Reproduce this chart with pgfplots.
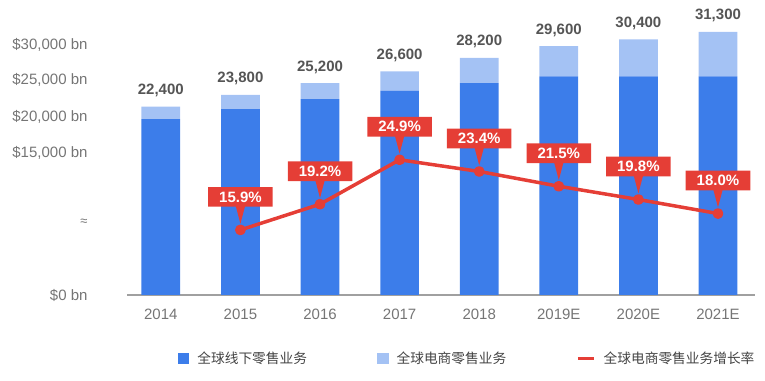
\documentclass[border=0pt]{standalone}
\usepackage{pgfplots}
\pgfplotsset{compat=1.18}
\usepackage{pgfplotstable}
\usepackage{fontspec}
\setmainfont{Liberation Sans}
\newfontfamily\cjk{Noto Sans CJK SC}
\usetikzlibrary{shapes.callouts}
\definecolor{bluedark}{HTML}{3C7DEA}
\definecolor{bluelight}{HTML}{A4C2F4}
\definecolor{redc}{HTML}{E53E36}
\definecolor{txtgray}{HTML}{757575}
\definecolor{lblgray}{HTML}{555555}
\definecolor{leggray}{HTML}{444444}
\definecolor{axgray}{HTML}{A0A0A0}
\pgfplotsset{/pgf/number format/assume math mode=true}

\pgfplotstableread{
x offline ecom total
0 20900 1500 22400
1 22100 1700 23800
2 23300 1900 25200
3 24300 2300 26600
4 25200 3000 28200
5 26000 3600 29600
6 26000 4400 30400
7 26000 5300 31300
}\bars

\begin{document}
\begin{tikzpicture}
\useasboundingbox (0,0) rectangle (765pt,380pt);
\begin{axis}[
  at={(127pt,85pt)}, anchor=south west,
  scale only axis, width=628pt, height=277.5pt,
  xmin=-0.425, xmax=7.465, ymin=0, ymax=33000,
  clip=false, scaled y ticks=false,
  ybar stacked, bar width=38.7pt,
  axis x line*=bottom, axis y line*=left,
  x axis line style={draw=axgray, line width=1.3pt, -},
  y axis line style={draw=none},
  major tick length=0pt,
  xtick={0,...,7},
  xticklabels={2014,2015,2016,2017,2018,2019E,2020E,2021E},
  xticklabel style={font=\fontsize{15}{18}\selectfont, text=txtgray, anchor=base, yshift=-24pt},
  ytick={0,8918,17039,21319,25647,29904},
  yticklabels={{\$0 bn},{\fontsize{13}{15}\selectfont≈\hspace{12pt}},{\$15,000 bn},{\$20,000 bn},{\$25,000 bn},{\$30,000 bn}},
  yticklabel style={font=\fontsize{15}{18}\selectfont, text=txtgray, anchor=base east, xshift=-36pt, yshift=-5.5pt},
  legend columns=3,
  legend style={at={(0.54,-0.227)}, anchor=center, draw=none, fill=none,
    font=\cjk\fontsize{13.7}{16}\selectfont, text=leggray,
    nodes={inner sep=0pt},
    /tikz/every odd column/.append style={column sep=8pt},
    /tikz/every even column/.append style={column sep=70pt}},
]
\addplot[fill=bluedark, draw=none,
  legend image code/.code={\fill[bluedark] (0pt,-6.3pt) rectangle (11.6pt,5.3pt);}]
  table[x=x, y=offline] {\bars};
\addlegendentry{全球线下零售业务}
\addplot[fill=bluelight, draw=none,
  legend image code/.code={\fill[bluelight] (0pt,-6.3pt) rectangle (11.6pt,5.3pt);}]
  table[x=x, y=ecom] {\bars};
\addlegendentry{全球电商零售业务}
\addlegendimage{legend image code/.code={\draw[redc, line width=3.5pt] (0pt,-0.5pt) -- (16pt,-0.5pt);}}
\addlegendentry{全球电商零售业务增长率}
\end{axis}
\begin{axis}[
  at={(127pt,85pt)}, anchor=south west,
  scale only axis, width=628pt, height=277.5pt,
  xmin=-0.425, xmax=7.465, ymin=0, ymax=33000,
  hide axis, clip=false,
]
\addplot[draw=none, point meta=y,
  nodes near coords={\pgfmathprintnumber[1000 sep={,}]{\pgfplotspointmeta}},
  every node near coord/.append style={font=\bfseries\fontsize{15}{18}\selectfont, text=lblgray, anchor=base, inner sep=0pt, yshift=12pt}]
  table[x=x, y=total] {\bars};
\end{axis}
\begin{axis}[
  at={(127pt,85pt)}, anchor=south west,
  scale only axis, width=628pt, height=277.5pt,
  xmin=-0.425, xmax=7.465, ymin=7.551, ymax=43.155,
  hide axis, clip=false,
]
\addplot[redc, line width=3.5pt, line join=round, mark=*, mark size=3.6pt,
  mark options={draw=none, fill=redc},
  point meta=y,
  nodes near coords={\pgfmathprintnumber[fixed, fixed zerofill, precision=1]{\pgfplotspointmeta}\%},
  every node near coord/.append style={rectangle callout, fill=redc, draw=none, text=white,
    font=\bfseries\fontsize{15}{18}\selectfont, inner xsep=11pt, inner ysep=4.5pt,
    anchor=center, yshift=33pt, callout relative pointer={(0pt,-17pt)}, callout pointer width=9pt}]
  coordinates {(1,15.9) (2,19.2) (3,24.9) (4,23.4) (5,21.5) (6,19.8) (7,18.0)};
\end{axis}
\end{tikzpicture}
\end{document}
